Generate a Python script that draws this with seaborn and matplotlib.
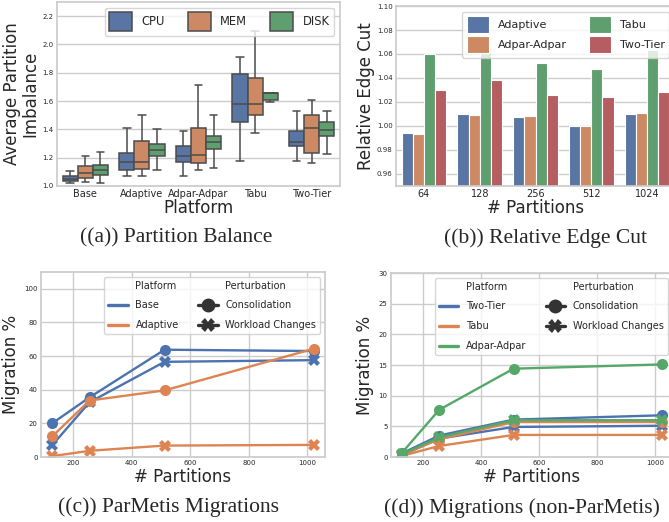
import matplotlib
matplotlib.use("Agg")
import matplotlib.pyplot as plt
import pandas as pd
import seaborn as sns
from matplotlib.lines import Line2D

# (a) box plot five-number summaries: [low whisker, q1, median, q3, high whisker]
platforms_a = ["Base", "Adaptive", "Adpar-Adpar", "Tabu", "Two-Tier"]
resources = ["CPU", "MEM", "DISK"]
cpu_stats = [[1.02, 1.035, 1.05, 1.07, 1.105],
             [1.07, 1.11, 1.17, 1.23, 1.41],
             [1.07, 1.17, 1.215, 1.285, 1.39],
             [1.18, 1.45, 1.58, 1.79, 1.91],
             [1.18, 1.28, 1.31, 1.39, 1.53]]
mem_stats = [[1.03, 1.055, 1.09, 1.14, 1.215],
             [1.07, 1.12, 1.17, 1.32, 1.505],
             [1.11, 1.16, 1.22, 1.41, 1.715],
             [1.375, 1.505, 1.58, 1.76, 2.095],
             [1.16, 1.235, 1.41, 1.50, 1.605]]
disk_stats = [[1.02, 1.08, 1.115, 1.15, 1.24],
              [1.115, 1.215, 1.255, 1.295, 1.405],
              [1.13, 1.26, 1.31, 1.355, 1.50],
              [1.59, 1.605, 1.655, 1.66, 1.66],
              [1.225, 1.35, 1.395, 1.455, 1.53]]

# (b) relative edge cut
partitions_b = ["64", "128", "256", "512", "1024"]
platforms_b = ["Adaptive", "Adpar-Adpar", "Tabu", "Two-Tier"]
cut_adaptive = [0.9945, 1.0103, 1.0075, 0.9997, 1.0098]
cut_adpar = [0.9935, 1.0095, 1.008, 1.0004, 1.0106]
cut_tabu = [1.060, 1.0617, 1.0528, 1.0475, 1.063]
cut_twotier = [1.0303, 1.038, 1.026, 1.024, 1.0283]

# (c) and (d) migrations
partitions = [128, 256, 512, 1024]
perturbations = ["Consolidation", "Workload Changes"]
base_cons = [20, 35.5, 63.8, 63]
base_wl = [7, 32.6, 56.6, 57.6]
adapt_cons = [12.2, 33.6, 39.6, 64.5]
adapt_wl = [0.5, 3.7, 6.8, 7.2]
two_cons = [0.6, 3.5, 6.1, 6.8]
two_wl = [0.3, 3.0, 4.9, 5.1]
tabu_cons = [0.4, 2.9, 5.7, 5.7]
tabu_wl = [0.2, 1.8, 3.6, 3.6]
adpar_cons = [0.7, 7.7, 14.4, 15.1]
adpar_wl = [0.5, 3.2, 6.0, 6.0]

sns.set_theme(style="whitegrid")
plt.rcParams['font.family'] = ['DejaVu Sans']

fig = plt.figure(figsize=(6.69, 5.22), dpi=100)
ax_a = fig.add_axes([0.0852, 0.6437, 0.423, 0.3525])
ax_b = fig.add_axes([0.592, 0.6437, 0.417, 0.3448])
ax_c = fig.add_axes([0.0613, 0.1245, 0.4245, 0.3544])
ax_d = fig.add_axes([0.5845, 0.1245, 0.4208, 0.3525])

# ---- (a) Partition Balance
rows = []
for res, stats in zip(resources, [cpu_stats, mem_stats, disk_stats]):
    for plat, vals in zip(platforms_a, stats):
        for v in vals:
            rows.append({"Platform": plat, "Resource": res, "Imbalance": v})
box_df = pd.DataFrame(rows)
sns.boxplot(data=box_df, x="Platform", y="Imbalance", hue="Resource",
            order=platforms_a, hue_order=resources, whis=(0, 100),
            linewidth=1.1, ax=ax_a)
ax_a.set_ylim(1.0, 2.3)
ax_a.set_ylabel("Average Partition\nImbalance", fontsize=12, linespacing=1.0)
ax_a.yaxis.set_label_coords(-0.062, 0.5)
ax_a.set_xlabel("Platform", fontsize=12, labelpad=0)
ax_a.tick_params(axis="x", labelsize=7, pad=2.5, length=0)
ax_a.tick_params(axis="y", labelsize=5, pad=2.5, length=0)
sns.move_legend(ax_a, "upper right", ncol=3, title=None, fontsize=8.3,
                handleheight=2.1, frameon=True)

# ---- (b) Relative Edge Cut
bar_df = pd.DataFrame({
    "# Partitions": partitions_b * 4,
    "Platform": sum([[p] * 5 for p in platforms_b], []),
    "Cut": cut_adaptive + cut_adpar + cut_tabu + cut_twotier,
})
sns.barplot(data=bar_df, x="# Partitions", y="Cut", hue="Platform",
            order=partitions_b, hue_order=platforms_b,
            edgecolor="white", linewidth=0.8, ax=ax_b)
ax_b.set_ylim(0.95, 1.10)
ax_b.set_ylabel("Relative Edge Cut", fontsize=12)
ax_b.yaxis.set_label_coords(-0.075, 0.5)
ax_b.set_xlabel("# Partitions", fontsize=12, labelpad=0)
ax_b.tick_params(axis="x", labelsize=7, pad=2.5, length=0)
ax_b.tick_params(axis="y", labelsize=5, pad=2.5, length=0)
sns.move_legend(ax_b, "upper right", ncol=2, title=None, fontsize=8,
                handleheight=2.0, labelspacing=0.25, frameon=True)


def line_panel(ax, series, platform_order, ylim, yticks, label_x):
    rows = []
    for plat, cons, wl in series:
        for pert, vals in zip(perturbations, [cons, wl]):
            for x, v in zip(partitions, vals):
                rows.append({"Platform": plat, "Perturbation": pert,
                             "# Partitions": x, "Migration %": v})
    df = pd.DataFrame(rows)
    sns.lineplot(data=df, x="# Partitions", y="Migration %", hue="Platform",
                 style="Perturbation", hue_order=platform_order,
                 style_order=perturbations, markers=True, dashes=False,
                 linewidth=1.7, markersize=8, markeredgewidth=0, ax=ax)
    ax.set_xlim(90, 1060)
    ax.set_ylim(*ylim)
    ax.set_yticks(yticks)
    ax.set_xticks([200, 400, 600, 800, 1000])
    ax.set_xlabel("# Partitions", fontsize=12, labelpad=1)
    ax.set_ylabel("Migration %", fontsize=12)
    ax.yaxis.set_label_coords(label_x, 0.5)
    ax.tick_params(axis="both", labelsize=5, pad=2.5, length=0)
    sns.move_legend(ax, "upper right", ncol=2, title=None, fontsize=7,
                    labelspacing=1.0, frameon=True)
    for h in ax.get_legend().legend_handles:
        if isinstance(h, Line2D):
            h.set_linewidth(2.4)
            h.set_markersize(10)


# ---- (c) ParMetis Migrations
line_panel(ax_c, [("Base", base_cons, base_wl), ("Adaptive", adapt_cons, adapt_wl)],
           ["Base", "Adaptive"], (0, 110), [0, 20, 40, 60, 80, 100], -0.074)

# ---- (d) Migrations (non-ParMetis)
line_panel(ax_d, [("Two-Tier", two_cons, two_wl), ("Tabu", tabu_cons, tabu_wl),
                  ("Adpar-Adpar", adpar_cons, adpar_wl)],
           ["Two-Tier", "Tabu", "Adpar-Adpar"], (0, 30), [0, 5, 10, 15, 20, 25, 30], -0.060)

# captions
cap = dict(ha="center", va="center", fontsize=15.5, family="Liberation Serif")
fig.text(0.263, 0.544, "((a)) Partition Balance", **cap)
fig.text(0.816, 0.544, "((b)) Relative Edge Cut", **cap)
fig.text(0.2526, 0.0287, "((c)) ParMetis Migrations", **cap)
fig.text(0.780, 0.0268, "((d)) Migrations (non-ParMetis)", **cap)

fig.savefig("out.png", dpi=100)
